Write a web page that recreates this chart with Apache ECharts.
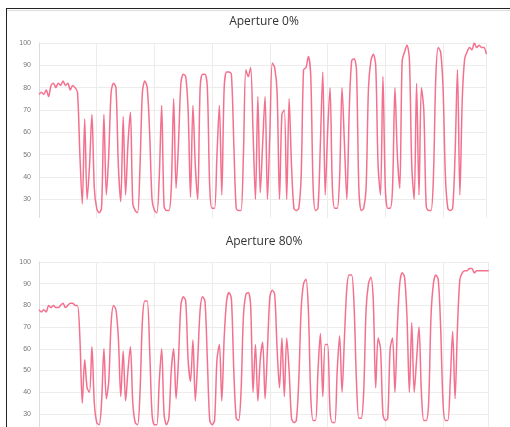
<!DOCTYPE html>
<html>
<head>
<meta charset="utf-8">
<script src="https://cdn.jsdelivr.net/npm/echarts@6/dist/echarts.min.js"></script>
<style>
  html, body { margin: 0; padding: 0; background: #fff; width: 510px; height: 427px; overflow: hidden; }
  .box { position: absolute; left: 0; width: 510px; overflow: hidden; }
  #box0 { top: 0; height: 218px; }
  #box80 { top: 218px; height: 209px; }
  #c0 { width: 510px; height: 270px; }
  #c80 { width: 510px; height: 260px; }
  #frame { position: absolute; left: 6px; top: 8px; right: 0; bottom: 0; border-top: 1px solid #222; border-left: 1px solid #222; pointer-events: none; z-index: 5; }
  #frame2 { position: absolute; left: 7px; top: 10px; right: 0; border-top: 1px solid #ddd; pointer-events: none; z-index: 5; }
</style>
</head>
<body>
<div class="box" id="box0"><div id="c0"></div></div>
<div class="box" id="box80"><div id="c80"></div></div>
<div id="frame"></div>
<div id="frame2"></div>
<script>
// chart titles
const titles = ['Aperture 0%', 'Aperture 80%']

// y axis ticks (only 30..100 visible, rest cut off like the screenshot)
const yMin = 20
const yMax = 100
const yStep = 10

// readings, one per sample
const aperture0 = [
  77, 78, 77, 79, 76, 81, 82, 80, 82, 81, 83, 81, 82, 79, 81, 80, 78, 50, 28, 66,
  30, 45, 68, 35, 26, 24, 26, 68, 32, 50, 78, 82, 80, 45, 29, 67, 32, 55, 69, 28,
  25, 24, 45, 78, 83, 80, 60, 30, 25, 24, 40, 72, 27, 25, 25, 35, 75, 35, 55, 82,
  86, 85, 70, 31, 72, 45, 30, 80, 86, 86, 80, 35, 26, 26, 50, 72, 32, 80, 87, 87,
  86, 55, 26, 25, 25, 50, 88, 85, 89, 60, 30, 76, 33, 55, 76, 30, 60, 91, 89, 78,
  30, 68, 70, 30, 75, 45, 26, 25, 26, 40, 88, 89, 94, 85, 35, 25, 26, 55, 87, 32,
  60, 80, 35, 26, 26, 40, 80, 55, 30, 70, 92, 93, 88, 35, 25, 26, 35, 80, 92, 95,
  90, 45, 32, 85, 35, 26, 26, 35, 80, 50, 35, 92, 96, 99, 93, 45, 30, 82, 32, 80,
  70, 27, 25, 25, 40, 85, 98, 96, 80, 40, 26, 25, 26, 50, 88, 32, 75, 93, 96, 98,
  97, 100, 98, 99, 98, 98, 95
]

const aperture80 = [
  78, 77, 78, 77, 80, 79, 80, 79, 79, 80, 81, 79, 80, 81, 81, 80, 80, 65, 35, 55,
  42, 40, 61, 35, 26, 25, 35, 60, 37, 45, 72, 80, 78, 65, 38, 59, 36, 50, 61, 35,
  26, 25, 40, 73, 82, 82, 60, 30, 25, 25, 45, 60, 30, 25, 28, 50, 60, 37, 55, 80,
  84, 82, 55, 45, 64, 36, 55, 78, 84, 82, 55, 27, 25, 27, 55, 62, 36, 65, 82, 86,
  83, 50, 28, 27, 40, 75, 85, 86, 80, 40, 62, 36, 55, 63, 37, 60, 84, 87, 85, 60,
  42, 65, 38, 65, 50, 28, 26, 27, 45, 78, 90, 92, 78, 38, 27, 27, 50, 67, 38, 62,
  62, 32, 26, 26, 50, 66, 40, 65, 88, 94, 94, 80, 45, 28, 28, 40, 78, 90, 93, 82,
  42, 65, 60, 30, 27, 28, 60, 65, 40, 70, 90, 95, 93, 75, 40, 72, 40, 55, 70, 40,
  27, 27, 35, 75, 90, 94, 92, 70, 35, 27, 27, 45, 68, 37, 70, 92, 95, 96, 96, 97,
  97, 95, 96, 96, 96, 96, 96, 96
]

const lineColor = 'rgba(242, 98, 130, 0.9)'
const gridColor = '#ececec'

function buildOption(title, values, titleTop, gridTop, gridHeight) {
  return {
    animation: false,
    title: {
      text: title,
      left: 264,
      top: titleTop,
      textAlign: 'center',
      padding: 0,
      textStyle: {
        fontFamily: 'Open Sans',
        fontSize: 12,
        fontWeight: 'normal',
        color: '#333'
      }
    },
    grid: {
      left: 39,
      top: gridTop,
      width: 2.405 * (values.length - 1),
      height: gridHeight
    },
    xAxis: {
      type: 'value',
      min: 0,
      max: values.length - 1,
      interval: 24,
      axisLine: { show: false },
      axisTick: { show: false },
      axisLabel: { show: false },
      splitLine: { show: true, lineStyle: { color: gridColor } }
    },
    yAxis: {
      type: 'value',
      min: yMin,
      max: yMax,
      interval: yStep,
      axisLine: { show: true, lineStyle: { color: '#dcdcdc' } },
      axisTick: { show: false },
      axisLabel: { fontSize: 7, color: '#777', margin: 8, fontFamily: 'Arial' },
      splitLine: { lineStyle: { color: gridColor } }
    },
    series: [{
      type: 'line',
      data: values.map((v, i) => [i, v]),
      showSymbol: false,
      smooth: 0.3,
      lineStyle: { color: lineColor, width: 1.5 },
      itemStyle: { color: lineColor }
    }]
  }
}

const chart0 = echarts.init(document.getElementById('c0'))
chart0.setOption(buildOption(titles[0], aperture0, 16, 43, 178.7))

const chart80 = echarts.init(document.getElementById('c80'))
chart80.setOption(buildOption(titles[1], aperture80, 18, 44, 173.6))
</script>
</body>
</html>
